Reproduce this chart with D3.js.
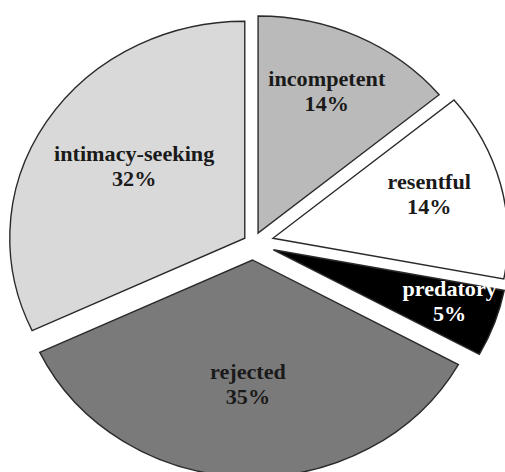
<!DOCTYPE html>
<html>
<head>
<meta charset="utf-8">
<script src="https://cdn.jsdelivr.net/npm/d3@7"></script>
<style>
  html, body { margin: 0; padding: 0; background: #fff; }
  svg { display: block; }
</style>
</head>
<body>
<svg id="chart" width="505" height="472"></svg>
<script>
// ---- data ----
const categories = ["incompetent", "resentful", "predatory", "rejected", "intimacy-seeking"];
const values = [14, 14, 5, 35, 32];
const valueLabels = ["14%", "14%", "5%", "35%", "32%"];

// ---- style ----
const fills = ["#bababa", "#ffffff", "#000000", "#7a7a7a", "#d9d9d9"];
const textFills = ["#1a1a1a", "#1a1a1a", "#ffffff", "#1a1a1a", "#1a1a1a"];
const explode = [11, 19, 20, 17, 9];
const labelRadius = [149, 149, 173, 132, 121];

const W = 505, H = 472;
const R = 217, sx = 1.083;
const cx = 253, cy = 243;

const svg = d3.select("#chart");
const g = svg.append("g").attr("transform", `translate(${cx},${cy}) scale(${sx},1)`);

const pie = d3.pie().sort(null).value(d => d)(values);
const arc = d3.arc().innerRadius(0).outerRadius(R);

const slices = g.selectAll("g.slice").data(pie).enter().append("g")
  .attr("class", "slice")
  .attr("transform", (d, i) => {
    const a = (d.startAngle + d.endAngle) / 2;
    return `translate(${explode[i] * Math.sin(a)},${-explode[i] * Math.cos(a)})`;
  });

slices.append("path")
  .attr("d", arc)
  .attr("fill", (d, i) => fills[i])
  .attr("stroke", "#2a2a2a")
  .attr("stroke-width", 1.4)
  .attr("stroke-linejoin", "miter")
  .attr("vector-effect", "non-scaling-stroke");

const labels = slices.append("text")
  .attr("text-anchor", "middle")
  .style("font-family", "'Liberation Serif', 'DejaVu Serif', serif")
  .style("font-weight", "bold")
  .style("font-size", "20.5px")
  .attr("fill", (d, i) => textFills[i])
  .attr("transform", (d, i) => {
    const a = (d.startAngle + d.endAngle) / 2;
    return `translate(${labelRadius[i] * Math.sin(a)},${-labelRadius[i] * Math.cos(a)})`;
  });

labels.append("tspan").attr("x", 0).attr("y", -12.5).text((d, i) => categories[i]);
labels.append("tspan").attr("x", 0).attr("y", 12.5).text((d, i) => valueLabels[i]);
</script>
</body>
</html>
